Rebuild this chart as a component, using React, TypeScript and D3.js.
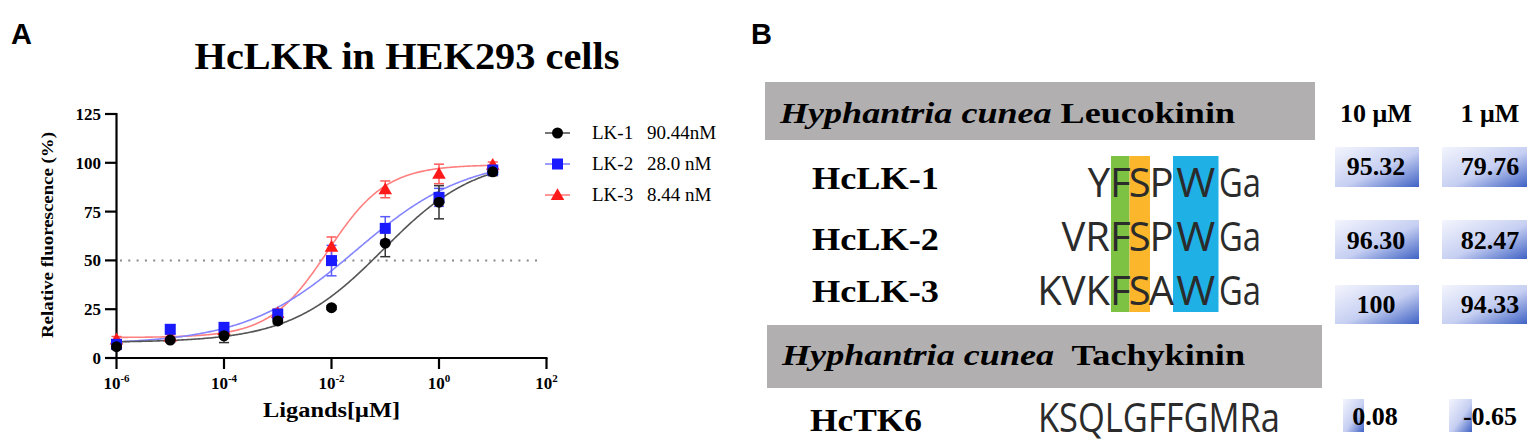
import React from 'react';
import * as d3 from 'd3';

// ---------- Panel A data ----------
const doseExponents = [-6, -5, -4, -3, -2, -1, 0, 1];
const lk1Values = [5.8, 9.2, 11.4, 19.0, 25.8, 58.8, 79.8, 95.4];
const lk1Sem = [1.0, 1.0, 3.5, 1.5, 1.0, 6.9, 8.5, 2.0];
const lk2Values = [7.0, 14.7, 15.7, 22.5, 49.9, 66.4, 82.3, 96.3];
const lk2Sem = [2.0, 2.0, 1.5, 2.0, 7.8, 6.0, 4.6, 2.0];
const lk3Values = [9.5, 11.0, 14.3, 23.0, 57.0, 86.4, 94.3, 98.9];
const lk3Sem = [1.5, 1.0, 1.5, 2.0, 5.0, 4.3, 5.0, 1.5];
const seriesNames = ['LK-1', 'LK-2', 'LK-3'];
const ec50Labels = ['90.44nM', '28.0 nM', '8.44 nM'];
// four-parameter logistic fit parameters
const fitBottom = [8, 7, 10.5];
const fitTop = [103, 103, 99];
const fitLogEC50 = [-1.04, -1.55, -2.07];
const fitHill = [0.5, 0.42, 0.8];
const yTicks = [0, 25, 50, 75, 100, 125];
const xTickExponents = [-6, -4, -2, 0, 2];

// ---------- Panel B data ----------
const lkNames = ['HcLK-1', 'HcLK-2', 'HcLK-3'];
const lkPrefix = ['Y', 'VR', 'KVK'];
const lkMotif = [['F', 'S', 'P', 'W'], ['F', 'S', 'P', 'W'], ['F', 'S', 'A', 'W']];
const lkSuffix = ['Ga', 'Ga', 'Ga'];
const lkAct10 = ['95.32', '96.30', '100'];
const lkAct1 = ['79.76', '82.47', '94.33'];
const tkName = 'HcTK6';
const tkSeq = 'KSQLGFFGMRa';
const tkAct10 = '0.08';
const tkAct1 = '-0.65';
const concHeaders = ['10 μM', '1 μM'];

const serif = '"Liberation Serif","Times New Roman",serif';
const sans = '"Liberation Sans",Arial,sans-serif';
const seqFont = '"Open Sans","Noto Sans",sans-serif';

const markerColors = ['#000000', '#1a1aff', '#ff1a1a'];
const curveColors = ['#555555', '#8585ff', '#ff8080'];
const errColors = ['#333333', '#5a5aff', '#ff5a5a'];

function Marker({ kind, cx, cy, color }: { kind: number; cx: number; cy: number; color: string }) {
  if (kind === 0) return <circle cx={cx} cy={cy} r={5.5} fill={color} />;
  if (kind === 1) return <rect x={cx - 5.5} y={cy - 5.5} width={11} height={11} fill={color} />;
  const p = d3.symbol().type(d3.symbolTriangle).size(80)();
  return <path d={p || ''} transform={`translate(${cx},${cy + 1})`} fill={color} />;
}

export default function App() {
  const x = d3.scaleLog().domain([1e-6, 1e2]).range([116.5, 546.5]);
  const y = d3.scaleLinear().domain([0, 125]).range([358, 114]);
  const values = [lk1Values, lk2Values, lk3Values];
  const sems = [lk1Sem, lk2Sem, lk3Sem];

  const line = d3
    .line<[number, number]>()
    .x((d) => x(Math.pow(10, d[0])))
    .y((d) => y(d[1]))
    .curve(d3.curveLinear);

  const curves = [0, 1, 2].map((i) => {
    const pts: [number, number][] = d3.range(-6, 1.0001, 0.02).map((lx) => [
      lx,
      fitBottom[i] + (fitTop[i] - fitBottom[i]) / (1 + Math.pow(10, (fitLogEC50[i] - lx) * fitHill[i])),
    ]);
    return line(pts) || '';
  });

  const drawOrder = [2, 1, 0];

  // Panel B layout
  const colF = 1111;
  const motifCols = [
    [1111, 1129.5],
    [1129.5, 1150],
    [1150, 1173],
    [1173, 1218.5],
  ];
  const motifColors = ['#7dc242', '#fbb62b', null, '#1fb0e6'];
  const seqBaselines = [197, 251, 305];
  const nameBaselines = [189, 250, 302];
  const boxRows = [
    [147, 187],
    [220, 259],
    [285, 324],
  ];
  const valBaselines = [175, 249, 313];
  const col10 = [1335, 1419];
  const col1 = [1442, 1527];
  const seqSize = 40;

  return (
    <svg
      width={1537}
      height={446}
      style={{ position: 'absolute', left: 0, top: 0, background: '#fff' }}
      xmlns="http://www.w3.org/2000/svg"
    >
      <defs>
        <linearGradient id="cellGrad" x1="0" y1="0" x2="1" y2="1">
          <stop offset="0" stopColor="#f3f5fd" />
          <stop offset="0.55" stopColor="#c6cff2" />
          <stop offset="1" stopColor="#3f62c4" />
        </linearGradient>
      </defs>
      <rect x={0} y={0} width={1537} height={446} fill="#fff" />

      {/* Panel letters */}
      <text x={11} y={44} fontFamily={sans} fontWeight="bold" fontSize={29}>A</text>
      <text x={751} y={44} fontFamily={sans} fontWeight="bold" fontSize={29}>B</text>

      {/* Title */}
      <text x={407} y={69} textAnchor="middle" fontFamily={serif} fontWeight="bold" fontSize={37}
        textLength={425} lengthAdjust="spacingAndGlyphs">HcLKR in HEK293 cells</text>

      {/* 50% dotted line */}
      <line x1={120} x2={542} y1={y(50)} y2={y(50)} stroke="#8a8a8a" strokeWidth={2}
        strokeDasharray="2,6.3" />

      {/* Axes */}
      <line x1={116.5} x2={116.5} y1={y(125) - 1} y2={y(0)} stroke="#000" strokeWidth={2.2} />
      {yTicks.map((t) => (
        <g key={t}>
          <line x1={105} x2={116.5} y1={y(t)} y2={y(t)} stroke="#000" strokeWidth={2.2} />
          <text x={101} y={y(t) + 6} textAnchor="end" fontFamily={serif} fontWeight="bold" fontSize={17}>{t}</text>
        </g>
      ))}
      <line x1={116.5} x2={547.5} y1={y(0)} y2={y(0)} stroke="#000" strokeWidth={2.2} />
      {xTickExponents.map((e) => (
        <g key={e}>
          <line x1={x(Math.pow(10, e))} x2={x(Math.pow(10, e))} y1={y(0)} y2={y(0) + 11} stroke="#000" strokeWidth={2.2} />
          <text x={x(Math.pow(10, e))} y={389} textAnchor="middle" fontFamily={serif} fontWeight="bold" fontSize={17}>
            10<tspan fontSize={11} dy={-7}>{e}</tspan>
          </text>
        </g>
      ))}
      <text x={331.5} y={417} textAnchor="middle" fontFamily={serif} fontWeight="bold" fontSize={20}
        textLength={137} lengthAdjust="spacingAndGlyphs">Ligands[μM]</text>
      <text transform="translate(53,235) rotate(-90)" textAnchor="middle" fontFamily={serif} fontWeight="bold"
        fontSize={16} textLength={206} lengthAdjust="spacingAndGlyphs">Relative fluorescence (%)</text>

      {/* Curves */}
      {drawOrder.map((i) => (
        <path key={'c' + i} d={curves[i]} fill="none" stroke={curveColors[i]} strokeWidth={1.6} />
      ))}
      {/* Error bars */}
      {drawOrder.map((i) => (
        <g key={'e' + i} stroke={errColors[i]} strokeWidth={1.5}>
          {doseExponents.map((e, j) => {
            const cx = x(Math.pow(10, e));
            const y1 = y(values[i][j] + sems[i][j]);
            const y2 = y(values[i][j] - sems[i][j]);
            return (
              <g key={j}>
                <line x1={cx} x2={cx} y1={y1} y2={y2} />
                <line x1={cx - 5} x2={cx + 5} y1={y1} y2={y1} />
                <line x1={cx - 5} x2={cx + 5} y1={y2} y2={y2} />
              </g>
            );
          })}
        </g>
      ))}
      {/* Markers */}
      {drawOrder.map((i) => (
        <g key={'m' + i}>
          {doseExponents.map((e, j) => (
            <Marker key={j} kind={i} cx={x(Math.pow(10, e))} cy={y(values[i][j])} color={markerColors[i]} />
          ))}
        </g>
      ))}

      {/* Legend */}
      {seriesNames.map((n, i) => {
        const ly = 133 + i * 31;
        return (
          <g key={n}>
            <line x1={545} x2={570} y1={ly} y2={ly} stroke={curveColors[i]} strokeWidth={1.6} />
            <Marker kind={i} cx={557.5} cy={ly} color={markerColors[i]} />
            <text x={592} y={ly + 6} fontFamily={serif} fontSize={19}>{n}</text>
            <text x={647} y={ly + 6} fontFamily={serif} fontSize={19}>{ec50Labels[i]}</text>
          </g>
        );
      })}

      {/* ---------- Panel B ---------- */}
      <rect x={765} y={82} width={550} height={58} fill="#b1afaf" />
      <text x={780} y={123} fontFamily={serif} fontWeight="bold" fontSize={30} textLength={455}
        lengthAdjust="spacingAndGlyphs">
        <tspan fontStyle="italic">Hyphantria cunea</tspan> Leucokinin
      </text>
      <rect x={767} y={325} width={555} height={63} fill="#b1afaf" />
      <text x={782} y={365} fontFamily={serif} fontWeight="bold" fontSize={30} textLength={463}
        lengthAdjust="spacingAndGlyphs" xmlSpace="preserve">
        <tspan fontStyle="italic">Hyphantria cunea</tspan>{'  '}Tachykinin
      </text>

      {concHeaders.map((h, k) => (
        <text key={h} x={k === 0 ? 1376 : 1490} y={122} textAnchor="middle" fontFamily={serif}
          fontWeight="bold" fontSize={26}>{h}</text>
      ))}

      {/* motif highlight columns */}
      {motifCols.map((c, k) =>
        motifColors[k] ? (
          <rect key={k} x={c[0]} y={156} width={c[1] - c[0]} height={156} fill={motifColors[k] as string} />
        ) : null
      )}

      {lkNames.map((n, i) => (
        <g key={n}>
          <text x={812} y={nameBaselines[i]} fontFamily={serif} fontWeight="bold" fontSize={32}
            textLength={127} lengthAdjust="spacingAndGlyphs">{n}</text>
          <text x={colF - 1} y={seqBaselines[i]} textAnchor="end" fontFamily={seqFont} fontSize={seqSize} fill="#2b2b2b">
            {lkPrefix[i]}
          </text>
          {lkMotif[i].map((m, k) => (
            <text key={k} x={(motifCols[k][0] + motifCols[k][1]) / 2} y={seqBaselines[i]} textAnchor="middle"
              fontFamily={seqFont} fontSize={seqSize} fill="#2b2b2b"
              textLength={k === 3 ? 39 : undefined} lengthAdjust="spacingAndGlyphs">{m}</text>
          ))}
          <text x={1219} y={seqBaselines[i]} fontFamily={seqFont} fontSize={seqSize} fill="#2b2b2b"
            textLength={42} lengthAdjust="spacingAndGlyphs">{lkSuffix[i]}</text>

          <rect x={col10[0]} y={boxRows[i][0]} width={col10[1] - col10[0]} height={boxRows[i][1] - boxRows[i][0]}
            fill="url(#cellGrad)" />
          <rect x={col1[0]} y={boxRows[i][0]} width={col1[1] - col1[0]} height={boxRows[i][1] - boxRows[i][0]}
            fill="url(#cellGrad)" />
          <text x={1376} y={valBaselines[i]} textAnchor="middle" fontFamily={serif} fontWeight="bold" fontSize={26}>
            {lkAct10[i]}
          </text>
          <text x={1490} y={valBaselines[i]} textAnchor="middle" fontFamily={serif} fontWeight="bold" fontSize={26}>
            {lkAct1[i]}
          </text>
        </g>
      ))}

      {/* TK row */}
      <text x={810} y={431} fontFamily={serif} fontWeight="bold" fontSize={32} textLength={112}
        lengthAdjust="spacingAndGlyphs">{tkName}</text>
      <text x={1038} y={432} fontFamily={seqFont} fontSize={seqSize} fill="#2b2b2b" textLength={242}
        lengthAdjust="spacingAndGlyphs">{tkSeq}</text>
      <rect x={1343} y={399} width={21} height={33} fill="url(#cellGrad)" />
      <rect x={1449} y={399} width={23} height={33} fill="url(#cellGrad)" />
      <text x={1375} y={425} textAnchor="middle" fontFamily={serif} fontWeight="bold" fontSize={26}>{tkAct10}</text>
      <text x={1490} y={425} textAnchor="middle" fontFamily={serif} fontWeight="bold" fontSize={26}>{tkAct1}</text>
    </svg>
  );
}
